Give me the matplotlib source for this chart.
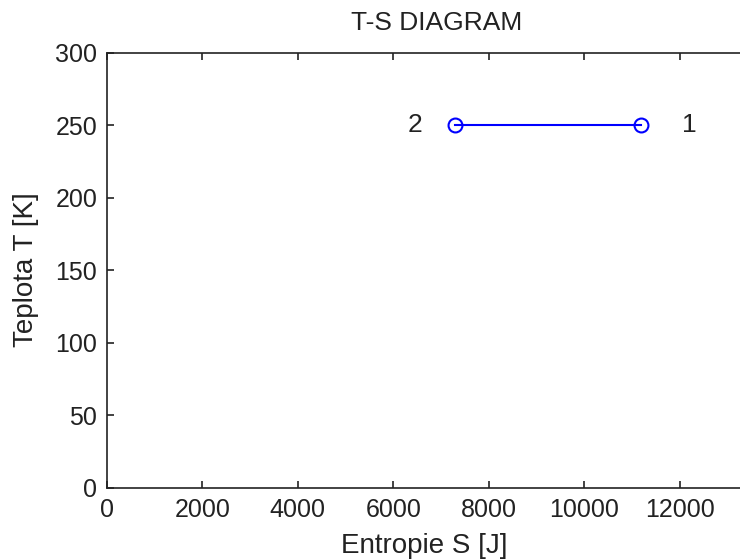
import numpy as np
import matplotlib
matplotlib.use('Agg')
import matplotlib.pyplot as plt

# stav 1 a 2 (entropie, teplota)
S = [11200, 7300]
T = [250, 250]
labels = ['1', '2']
label_S = [12200, 6450]

x_ticks = np.arange(0, 14001, 2000)
y_ticks = np.arange(0, 301, 50)

plt.rcParams['font.family'] = ['Liberation Sans', 'DejaVu Sans']

fig = plt.figure(figsize=(7.4, 5.6), dpi=100)
ax = fig.add_axes([0.1446, 0.1286, 0.9027, 0.7768])

ax.plot(S, T, color='blue', linewidth=1.5, marker='o', markersize=10,
        markerfacecolor='none', markeredgecolor='blue', markeredgewidth=1.5)
for s, t, lab in zip(label_S, T, labels):
    ax.text(s, t, lab, fontsize=19, ha='center', va='center', color='#222222')

ax.set_xlim(0, 14000)
ax.set_ylim(0, 300)
ax.set_xticks(x_ticks)
# posledni popisek je mimo obrazek
ax.set_xticklabels([str(v) for v in x_ticks[:-1]] + [''])
ax.set_yticks(y_ticks)
ax.tick_params(direction='in', length=5, width=1.2, labelsize=18,
               top=True, right=True, pad=7, colors='#222222')
for sp in ax.spines.values():
    sp.set_linewidth(1.2)
    sp.set_color('#222222')

ax.text(0.494, 1.069, 'T-S DIAGRAM', fontsize=19, ha='center', va='center',
        transform=ax.transAxes, color='#222222')
ax.set_xlabel('Entropie S [J]', fontsize=20, color='#222222')
ax.xaxis.set_label_coords(0.4746, -0.133)
ax.xaxis.label.set_va('center')
ax.set_ylabel('Teplota T [K]', fontsize=20, color='#222222')
ax.yaxis.set_label_coords(-0.121, 0.501)
ax.yaxis.label.set_va('center')

fig.savefig('out.png', dpi=100)
